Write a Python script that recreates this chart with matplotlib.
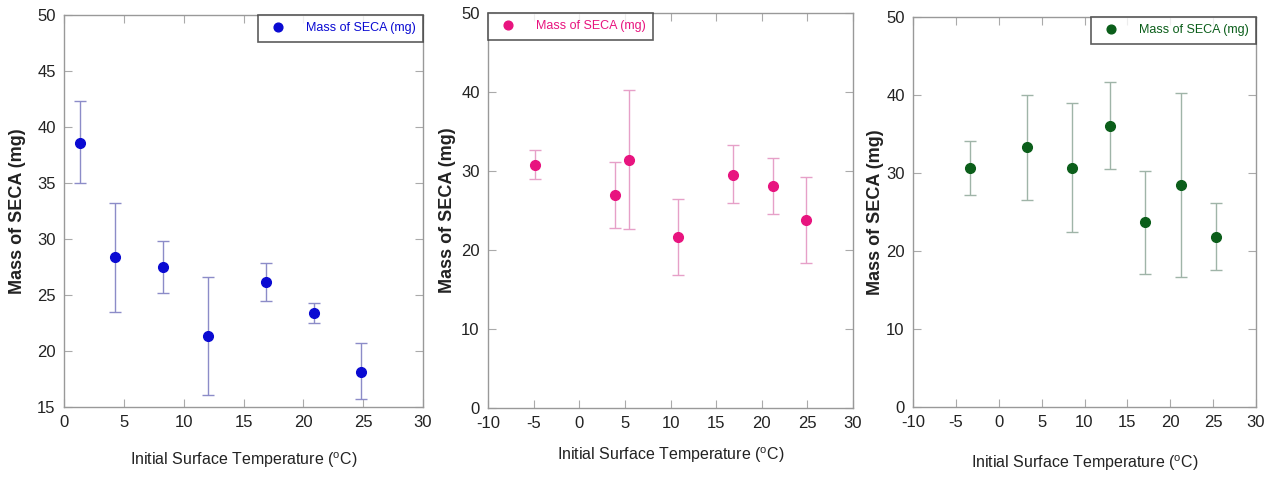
import numpy as np
import matplotlib
matplotlib.use("Agg")
import matplotlib.pyplot as plt

plt.rcParams['font.family'] = ['Liberation Sans', 'DejaVu Sans']
plt.rcParams['axes.unicode_minus'] = False

# panel 1 (blue)
temp1 = [1.3, 4.3, 8.3, 12.0, 16.9, 20.9, 24.8]
mass1 = [38.6, 28.4, 27.5, 21.3, 26.2, 23.4, 18.1]
hi1 = [42.3, 33.2, 29.8, 26.6, 27.9, 24.3, 20.7]
lo1 = [35.0, 23.5, 25.2, 16.1, 24.5, 22.5, 15.7]

# panel 2 (pink)
temp2 = [-4.8, 3.9, 5.5, 10.8, 16.9, 21.2, 24.8]
mass2 = [30.8, 26.9, 31.4, 21.6, 29.5, 28.1, 23.8]
hi2 = [32.6, 31.2, 40.2, 26.4, 33.3, 31.6, 29.2]
lo2 = [29.0, 22.8, 22.7, 16.8, 25.9, 24.6, 18.4]

# panel 3 (green)
temp3 = [-3.3, 3.3, 8.6, 13.0, 17.1, 21.3, 25.3]
mass3 = [30.6, 33.3, 30.6, 36.0, 23.7, 28.4, 21.8]
hi3 = [34.1, 40.0, 39.0, 41.7, 30.3, 40.2, 26.1]
lo3 = [27.2, 26.6, 22.4, 30.5, 17.1, 16.7, 17.6]

W, H = 1272, 480
fig = plt.figure(figsize=(W / 100, H / 100), dpi=100)


def px_axes(x0, y0, x1, y1):
    return fig.add_axes([x0 / W, 1 - y1 / H, (x1 - x0) / W, (y1 - y0) / H])


panels = [
    dict(box=(64, 15, 423, 407), t=temp1, m=mass1, hi=hi1, lo=lo1,
         col='#0a0ad2', ecol='#8c8cc8', xlim=(0, 30), ylim=(15, 50),
         yt=np.arange(15, 51, 5), xt=np.arange(0, 31, 5), loc='upper right',
         xl=460, yl=18),
    dict(box=(488, 13, 853, 408), t=temp2, m=mass2, hi=hi2, lo=lo2,
         col='#e8147f', ecol='#e6a0c8', xlim=(-10, 30), ylim=(0, 50),
         yt=np.arange(0, 51, 10), xt=np.arange(-10, 31, 5), loc='upper left',
         xl=455, yl=447),
    dict(box=(913, 17, 1256, 407), t=temp3, m=mass3, hi=hi3, lo=lo3,
         col='#0b5e1a', ecol='#9fb4a8', xlim=(-10, 30), ylim=(0, 50),
         yt=np.arange(0, 51, 10), xt=np.arange(-10, 31, 5), loc='upper right',
         xl=463, yl=875),
]

for p in panels:
    x0, y0, x1, y1 = p['box']
    ax = px_axes(x0, y0, x1, y1)
    m = np.array(p['m'])
    yerr = [m - np.array(p['lo']), np.array(p['hi']) - m]
    ax.errorbar(p['t'], m, yerr=yerr, fmt='none', ecolor=p['ecol'],
                elinewidth=1.0, capsize=4, capthick=1.0, zorder=2)
    ax.plot(p['t'], m, 'o', color=p['col'], markersize=7, zorder=3,
            label='Mass of SECA (mg)', linestyle='none')
    ax.set_xlim(*p['xlim'])
    ax.set_ylim(*p['ylim'])
    ax.set_xticks(p['xt'])
    ax.set_yticks(p['yt'])
    ax.tick_params(direction='in', top=True, right=True, length=6,
                   width=0.8, color='#aaaaaa', labelsize=12,
                   labelcolor='#222222', pad=6)
    for s in ax.spines.values():
        s.set_color('#999999')
        s.set_linewidth(1.0)
    leg = ax.legend(loc=p['loc'], frameon=True, fancybox=False,
                    borderaxespad=0, fontsize=9, handletextpad=1.2,
                    borderpad=0.6, labelcolor=p['col'], markerscale=0.9)
    leg.get_frame().set_edgecolor('#333333')
    leg.get_frame().set_linewidth(1.2)
    # axis labels placed in pixel coordinates
    fig.text((x0 + x1) / 2 / W, 1 - p['xl'] / H,
             'Initial Surface Temperature ($^{\\mathregular{o}}$C)',
             ha='center', va='center', fontsize=11.5, color='#222222')
    fig.text(p['yl'] / W, 1 - (y0 + y1) / 2 / H, 'Mass of SECA (mg)',
             rotation=90, ha='center', va='center', fontsize=13,
             fontweight='bold', color='#222222')

fig.savefig('out.png', dpi=100)
